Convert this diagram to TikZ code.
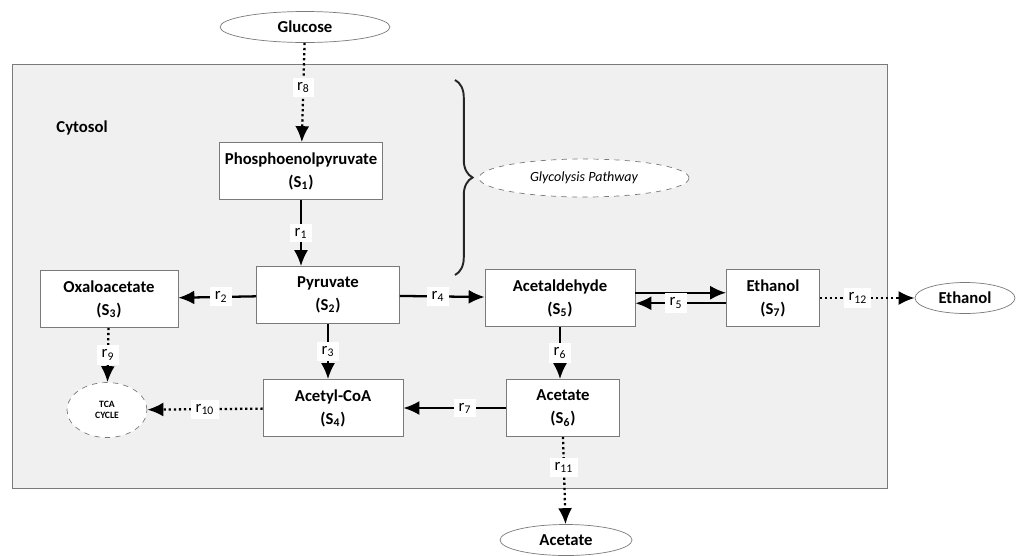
\documentclass[tikz,border=0pt]{standalone}
\usepackage{fontspec}
\setmainfont{Carlito}
\usepackage{tikz}
\usetikzlibrary{positioning,arrows.meta,shapes.geometric,decorations.pathreplacing}
\definecolor{cborde}{HTML}{7A7A7A}
\definecolor{cfondo}{HTML}{F0F0F0}
\tikzset{
  caja/.style={rectangle, draw=cborde, fill=white, align=center,
    minimum height=1.14cm, inner sep=1pt, font=\fontsize{9.5}{13}\selectfont\bfseries},
  elipse/.style={ellipse, draw=cborde, fill=white, inner sep=1pt,
    minimum height=0.62cm, font=\fontsize{9.5}{12}\selectfont\bfseries},
  flecha/.style={-{Latex[length=3.2mm,width=2.8mm]}, line width=1.3pt, draw=black},
  punteada/.style={flecha, dash pattern=on 1.3pt off 1.6pt},
  etq/.style={fill=white, inner sep=2.5pt, font=\fontsize{9.5}{11}\selectfont},
}
\begin{document}
\begin{tikzpicture}[x=0.02cm, y=-0.02cm]
  \useasboundingbox (0,0) rectangle (1023,555);
  % cytosol
  \node[draw=cborde, fill=cfondo, minimum width=17.5cm, minimum height=8.48cm,
    inner sep=0pt] (cyt) at (449.5,276) {};
  \node[font=\fontsize{9.5}{11}\selectfont\bfseries] (cyttxt) at (82,128) {Cytosol};

  % metabolites
  \node[elipse, minimum width=3.4cm] (glu) at (305,27) {Glucose};
  \node[caja, minimum width=3.26cm] (pep) at (301,171) {Phosphoenolpyruvate\\(S\textsubscript{1})};
  \node[caja, minimum width=2.86cm] (pyr) at (328,295) {Pyruvate\\(S\textsubscript{2})};
  \node[caja, minimum width=2.76cm] (oxa) at (109,299) {Oxaloacetate\\(S\textsubscript{3})};
  \node[caja, minimum width=2.8cm] (aco) at (333,408) {Acetyl-CoA\\(S\textsubscript{4})};
  \node[caja, minimum width=3.0cm] (ald) at (560,298) {Acetaldehyde\\(S\textsubscript{5})};
  \node[caja, minimum width=2.26cm] (ace) at (563,408) {Acetate\\(S\textsubscript{6})};
  \node[caja, minimum width=1.86cm] (eth) at (773,298) {Ethanol\\(S\textsubscript{7})};
  \node[elipse, minimum width=2.0cm] (etho) at (965,298) {Ethanol};
  \node[elipse, minimum width=2.64cm] (aceo) at (566,540) {Acetate};
  \node[elipse, dashed, minimum width=1.6cm, minimum height=1.1cm,
    font=\fontsize{5.5}{6.5}\selectfont\bfseries, align=center] (tca) at (107,410) {TCA\\CYCLE};
  \node[elipse, dashed, minimum width=4.2cm, minimum height=0.76cm,
    font=\fontsize{8}{10}\selectfont\itshape] (gly) at (584,178) {Glycolysis Pathway};

  % brace
  \coordinate (brtop) at (455,80);
  \coordinate (brbot) at (455,275);
  \draw[decorate, decoration={brace, amplitude=10pt}, line width=1.1pt, draw=black!85] (brtop) -- (brbot);

  % reactions
  \draw[punteada] (glu) -- (pep) node[etq, pos=0.45]{r\textsubscript{8}};
  \draw[flecha] (pep) -- (pyr.north -| pep) node[etq, midway]{r\textsubscript{1}};
  \draw[flecha] (pyr) -- (oxa) node[etq, pos=0.45]{r\textsubscript{2}};
  \draw[flecha] (pyr.south) -- (pyr.south |- aco.north) node[etq, midway]{r\textsubscript{3}};
  \draw[flecha] (pyr) -- (ald) node[etq, pos=0.45]{r\textsubscript{4}};
  \draw[flecha] ([yshift=3pt]ald.east) -- ([yshift=3pt]eth.west);
  \draw[flecha] ([yshift=-3pt]eth.west) -- ([yshift=-3pt]ald.east);
  \node[etq] (r5) at (676,303) {r\textsubscript{5}};
  \draw[flecha] (ald.south) -- (ald.south |- ace.north) node[etq, midway]{r\textsubscript{6}};
  \draw[flecha] (ace) -- (aco) node[etq, pos=0.4]{r\textsubscript{7}};
  \draw[punteada] (oxa) -- (tca) node[etq, midway]{r\textsubscript{9}};
  \draw[punteada] (aco) -- (tca) node[etq, midway]{r\textsubscript{10}};
  \draw[punteada] (ace.south) -- (aceo) node[etq, pos=0.35]{r\textsubscript{11}};
  \draw[punteada] (eth) -- (etho) node[etq, pos=0.4]{r\textsubscript{12}};
\end{tikzpicture}
\end{document}
